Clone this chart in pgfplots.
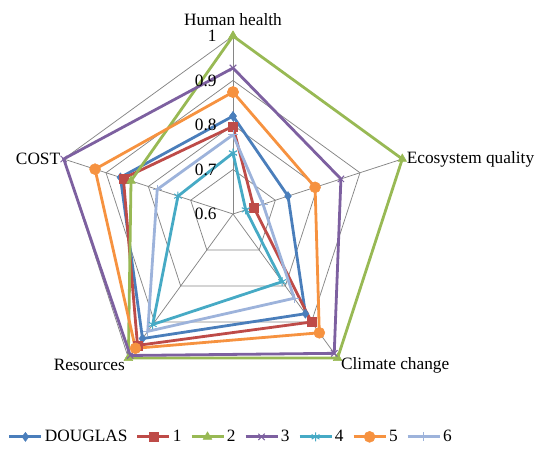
\documentclass[border=0pt]{standalone}
\usepackage{fontspec}
\setmainfont{Liberation Serif}
\usepackage{pgfplots}
\pgfplotsset{compat=1.18}
\usepgfplotslibrary{polar}

\definecolor{cDoug}{HTML}{4A7EBB}
\definecolor{cOne}{HTML}{BE4B48}
\definecolor{cTwo}{HTML}{98B954}
\definecolor{cThree}{HTML}{7D60A0}
\definecolor{cFour}{HTML}{46AAC5}
\definecolor{cFive}{HTML}{F69240}
\definecolor{cSix}{HTML}{9DB3DB}
\definecolor{cGrid}{HTML}{868686}
\newcommand{\lbl}{\fontsize{17.3bp}{20bp}\selectfont}

\begin{document}
\begin{tikzpicture}[font=\lbl]
\begin{polaraxis}[
  hide axis, clip=false,
  scale only axis, width=356bp, height=356bp,
  xmin=0, xmax=360, ymin=0, ymax=0.4,
  y filter/.expression={y-0.6},
  legend columns=-1,
  legend style={at={(0.494,-0.126)}, anchor=center, draw=none, fill=none,
    font=\lbl,
    /tikz/every even column/.append style={column sep=6.6bp}},
  legend image code/.code={\draw[mark repeat=2,mark phase=2,#1]
    plot coordinates {(0bp,0bp) (16bp,0bp) (32bp,0bp)};},
  every axis plot/.append style={line width=2.8bp},
  grid line/.style={cGrid, line width=0.75bp, no marks, forget plot},
]
% web: spokes
\addplot[grid line] coordinates {(90,0.6) (90,1.0)} node[coordinate,pos=0] (c) {};
\addplot[grid line] coordinates {(18,0.6) (18,1.0)};
\addplot[grid line] coordinates {(306,0.6) (306,1.0)};
\addplot[grid line] coordinates {(234,0.6) (234,1.0)};
\addplot[grid line] coordinates {(162,0.6) (162,1.0)};
% web: rings
\addplot[grid line] coordinates {(90,0.7) (18,0.7) (306,0.7) (234,0.7) (162,0.7) (90,0.7)};
\addplot[grid line] coordinates {(90,0.8) (18,0.8) (306,0.8) (234,0.8) (162,0.8) (90,0.8)};
\addplot[grid line] coordinates {(90,0.9) (18,0.9) (306,0.9) (234,0.9) (162,0.9) (90,0.9)};
\addplot[grid line] coordinates {(90,1.0) (18,1.0) (306,1.0) (234,1.0) (162,1.0) (90,1.0)};

% series: Human health, Ecosystem quality, Climate change, Resources, COST
\addplot[cDoug, mark=diamond*, mark size=4.5bp, mark options={fill=cDoug, line width=0.5bp}]
  coordinates {(90,0.820) (18,0.730) (306,0.877) (234,0.946) (162,0.866) (90,0.820)};
\addlegendentry{DOUGLAS}
\addplot[cOne, mark=square*, mark size=4.5bp, mark options={fill=cOne, line width=0.5bp}]
  coordinates {(90,0.797) (18,0.649) (306,0.900) (234,0.965) (162,0.859) (90,0.797)};
\addlegendentry{1}
\addplot[cTwo, mark=triangle*, mark size=5bp, mark options={fill=cTwo, line width=0.5bp}]
  coordinates {(90,1.000) (18,1.000) (306,1.000) (234,1.000) (162,0.841) (90,1.000)};
\addlegendentry{2}
\addplot[cThree, mark=x, mark size=4.5bp, mark options={line width=1bp}]
  coordinates {(90,0.928) (18,0.855) (306,0.987) (234,0.993) (162,1.000) (90,0.928)};
\addlegendentry{3}
\addplot[cFour, mark=asterisk, mark size=4.5bp, mark options={line width=1bp}]
  coordinates {(90,0.737) (18,0.630) (306,0.788) (234,0.907) (162,0.730) (90,0.737)};
\addlegendentry{4}
\addplot[cFive, mark=*, mark size=5.5bp, mark options={fill=cFive, line width=0.5bp}]
  coordinates {(90,0.874) (18,0.794) (306,0.930) (234,0.973) (162,0.926) (90,0.874)};
\addlegendentry{5}
\addplot[cSix, mark=+, mark size=4.5bp, mark options={line width=1bp}]
  coordinates {(90,0.778) (18,0.671) (306,0.834) (234,0.926) (162,0.779) (90,0.778)};
\addlegendentry{6}
\end{polaraxis}

% tick labels on the top spoke
\path (c) node[anchor=east, xshift=-13bp] {0.6};
\path (c) ++(90:44.5bp) node[anchor=east, xshift=-13bp] {0.7};
\path (c) ++(90:89bp) node[anchor=east, xshift=-13bp] {0.8};
\path (c) ++(90:133.5bp) node[anchor=east, xshift=-13bp] {0.9};
\path (c) ++(90:178bp) node[anchor=east, xshift=-13bp] {1};
% category labels
\path (c) ++(90:178bp) node[anchor=base, yshift=10bp, inner sep=0pt] {Human health};
\path (c) ++(18:178bp) node[anchor=west, xshift=1bp] {Ecosystem quality};
\path (c) ++(306:178bp) node[anchor=west, yshift=-7bp] {Climate change};
\path (c) ++(234:178bp) node[anchor=east, yshift=-7bp] {Resources};
\path (c) ++(162:178bp) node[anchor=east, xshift=0bp] {COST};

\pgfresetboundingbox
\path (c) ++(-233bp,214bp) rectangle ++(536bp,-449bp);
\end{tikzpicture}
\end{document}
